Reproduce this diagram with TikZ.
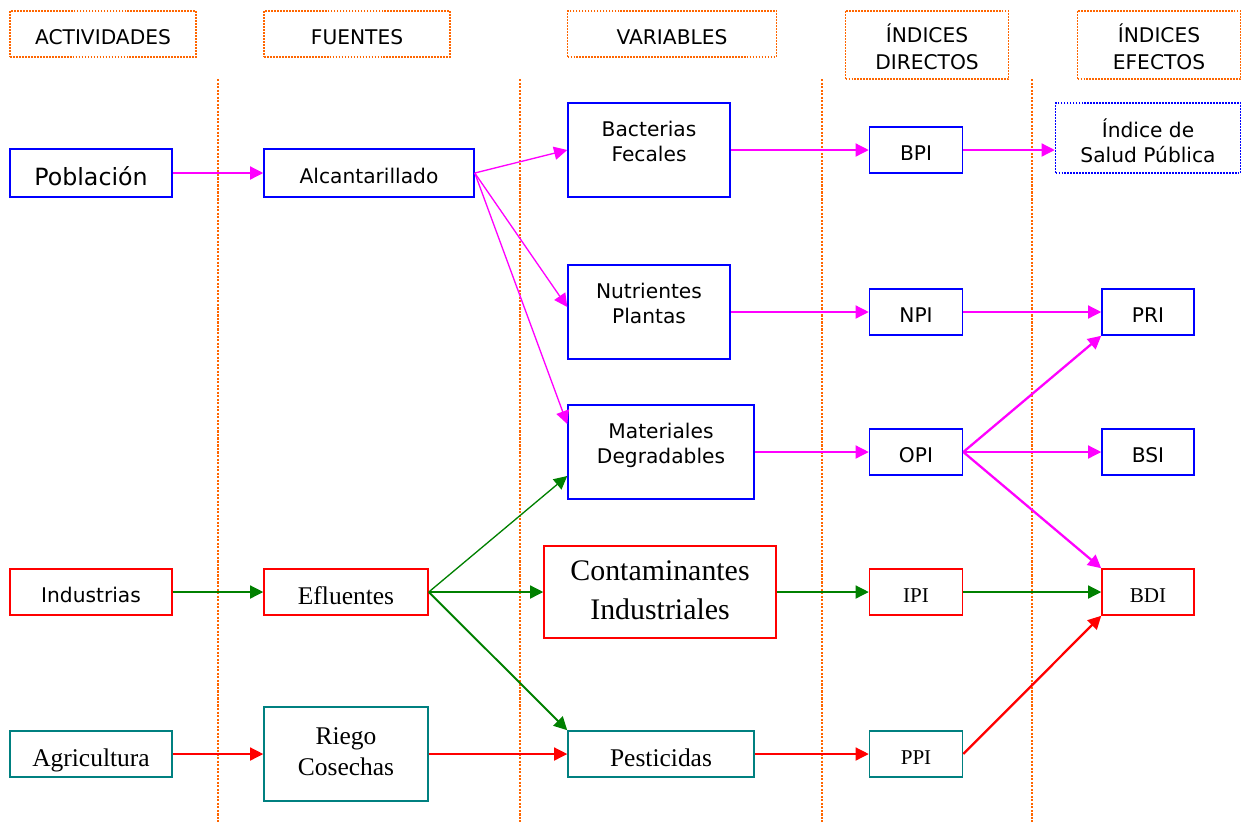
\documentclass[tikz,border=0pt]{standalone}
\usepackage{fontspec}
\usepackage{graphicx}
\setmainfont{Liberation Serif}
\setsansfont{DejaVu Sans}
\usetikzlibrary{arrows.meta}
\definecolor{naranja}{HTML}{FF6600}
\definecolor{magenta}{HTML}{FF00FF}
\definecolor{verde}{HTML}{008000}
\definecolor{rojo}{HTML}{FF0000}
\definecolor{azul}{HTML}{0000FF}
\definecolor{turquesa}{HTML}{008080}
\newcommand{\lns}[1]{\begin{tabular}{@{}c@{}}#1\end{tabular}}
\newcommand{\upl}[1]{\raisebox{0.02cm}[0pt][0pt]{\lns{#1}}}
\newcommand{\dnl}[1]{\raisebox{-0.22cm}[0pt][0pt]{\lns{#1}}}
\begin{document}
\begin{tikzpicture}[x=0.02cm,y=-0.02cm,
 hd/.style={draw=naranja,line width=0.9pt,dash pattern=on 1pt off 0.7pt,inner sep=0,align=center,font=\sffamily\fontsize{11.5}{15.3}\selectfont},
 sepl/.style={draw=naranja,line width=0.7pt,dash pattern=on 1.2pt off 0.8pt},
 bx/.style={draw,line width=0.9pt,inner sep=0,font=\sffamily\fontsize{11.5}{14.5}\selectfont},
 tx/.style={bx,font=\rmfamily\fontsize{14.5}{17.6}\selectfont},
 ix/.style={bx,font=\rmfamily\fontsize{12}{14}\selectfont,text height=0.42cm,text depth=0.02cm},
 one/.style={text height=0.44cm,text depth=0.02cm},
 low/.style={text height=0.5cm,text depth=0.02cm},
 bl/.style={draw=azul}, rd/.style={draw=rojo}, tl/.style={draw=turquesa},
 fl/.style={-{Triangle[length=7.5pt,width=7.5pt]},line width=0.75pt},
 mg/.style={fl,color=magenta}, vd/.style={fl,color=verde}, rj/.style={fl,color=rojo},
 thk/.style={line width=1.3pt}]
 \useasboundingbox (0,0) rectangle (1243,822);
 \foreach \x in {218,520,822,1032} \draw[sepl] (\x,79) -- (\x,822);
 \node[hd,one,minimum width=3.72cm,minimum height=0.92cm] (hact) at (103,34) {ACTIVIDADES};
 \node[hd,one,minimum width=3.72cm,minimum height=0.92cm] (hfue) at (357,34) {FUENTES};
 \node[hd,one,minimum width=4.18cm,minimum height=0.92cm] (hvar) at (672,34) {VARIABLES};
 \node[hd,minimum width=3.26cm,minimum height=1.36cm] (hdir) at (927,45) {\dnl{ÍNDICES\\DIRECTOS}};
 \node[hd,minimum width=3.26cm,minimum height=1.36cm] (hefe) at (1159,45) {\dnl{ÍNDICES\\EFECTOS}};
 \node[bx,bl,minimum width=3.24cm,minimum height=0.96cm,font=\sffamily\fontsize{13.5}{16}\selectfont,text height=0.53cm,text depth=0.02cm] (pob) at (91,173) {Población};
 \node[bx,bl,one,minimum width=4.2cm,minimum height=0.96cm] (alc) at (369,173) {Alcantarillado};
 \node[bx,bl,minimum width=3.24cm,minimum height=1.88cm] (bac) at (649,150) {\upl{Bacterias\\Fecales}};
 \node[bx,bl,one,minimum width=1.86cm,minimum height=0.92cm] (bpi) at (916,150) {BPI};
 \node[bx,bl,dash pattern=on 1pt off 0.7pt,minimum width=3.7cm,minimum height=1.4cm] (isp) at (1148,138) {\raisebox{-0.23cm}[0pt][0pt]{\lns{Índice de\\Salud Pública}}};
 \node[bx,bl,minimum width=3.24cm,minimum height=1.88cm] (nut) at (649,312) {\upl{Nutrientes\\Plantas}};
 \node[bx,bl,one,minimum width=1.86cm,minimum height=0.92cm] (npi) at (916,312) {NPI};
 \node[bx,bl,one,minimum width=1.84cm,minimum height=0.92cm] (pri) at (1148,312) {PRI};
 \node[bx,bl,minimum width=3.72cm,minimum height=1.88cm] (mat) at (661,452) {\upl{Materiales\\Degradables}};
 \node[bx,bl,one,minimum width=1.86cm,minimum height=0.92cm] (opi) at (916,452) {OPI};
 \node[bx,bl,one,minimum width=1.84cm,minimum height=0.92cm] (bsi) at (1148,452) {BSI};
 \node[bx,rd,one,minimum width=3.24cm,minimum height=0.92cm] (ind) at (91,592) {Industrias};
 \node[tx,rd,low,minimum width=3.28cm,minimum height=0.92cm] (efl) at (346,592) {Efluentes};
 \node[tx,rd,minimum width=4.64cm,minimum height=1.84cm,font=\rmfamily\fontsize{17}{22.5}\selectfont] (con) at (660,592) {\lns{Contaminantes\\Industriales}};
 \node[ix,rd,minimum width=1.86cm,minimum height=0.92cm] (ipi) at (916,592) {IPI};
 \node[ix,rd,minimum width=1.84cm,minimum height=0.92cm] (bdi) at (1148,592) {BDI};
 \node[tx,tl,low,minimum width=3.24cm,minimum height=0.92cm] (agr) at (91,754) {Agricultura};
 \node[tx,tl,minimum width=3.28cm,minimum height=1.88cm] (rie) at (346,754) {\lns{Riego\\Cosechas}};
 \node[tx,tl,low,minimum width=3.72cm,minimum height=0.92cm] (pes) at (661,754) {Pesticidas};
 \node[ix,tl,minimum width=1.86cm,minimum height=0.92cm] (ppi) at (916,754) {PPI};
 \draw[mg] (pob) -- (alc);
 \draw[mg] (alc.east) -- (bac.west);
 \draw[mg] (alc.east) -- ([yshift=0.1cm]nut.west);
 \draw[mg] (alc.east) -- ([yshift=0.56cm]mat.west);
 \draw[mg] (bac) -- (bpi);
 \draw[mg] (bpi.east) -- (bpi.east -| isp.west);
 \draw[mg] (nut) -- (npi);
 \draw[mg] (npi) -- (pri);
 \draw[mg] (mat) -- (opi);
 \draw[mg,thk] (opi.east) -- (pri.south west);
 \draw[mg] (opi) -- (bsi);
 \draw[mg,thk] (opi.east) -- (bdi.north west);
 \draw[vd] (ind) -- (efl);
 \draw[vd] (efl.east) -- ([yshift=-0.48cm]mat.west);
 \draw[vd] (efl) -- (con);
 \draw[vd,line width=1.1pt] (efl.east) -- (pes.north west);
 \draw[vd] (con) -- (ipi);
 \draw[vd] (ipi) -- (bdi);
 \draw[rj] (agr) -- (rie);
 \draw[rj] (rie) -- (pes);
 \draw[rj] (pes) -- (ppi);
 \draw[rj,thk] (ppi.east) -- (bdi.south west);
\end{tikzpicture}
\end{document}
